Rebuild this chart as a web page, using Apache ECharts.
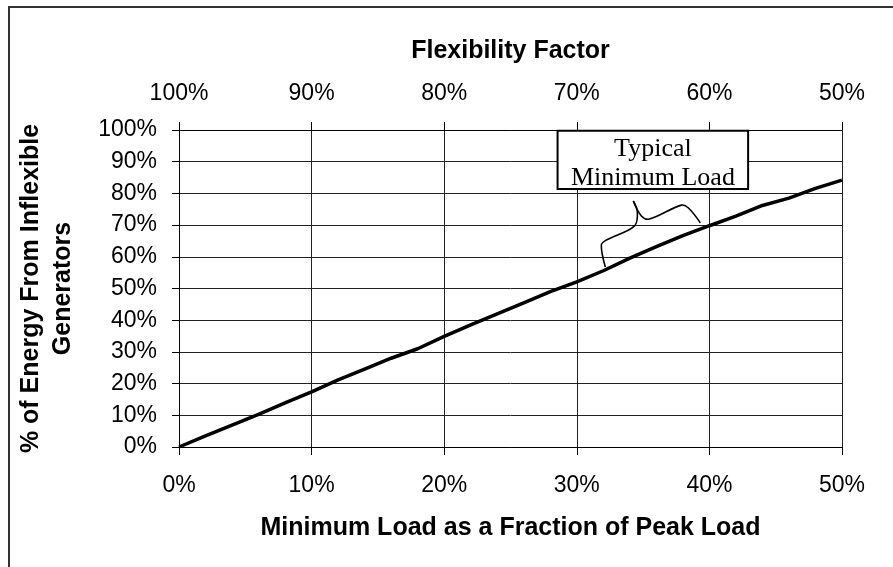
<!DOCTYPE html>
<html>
<head>
<meta charset="utf-8">
<script src="https://cdn.jsdelivr.net/npm/echarts@6/dist/echarts.min.js"></script>
<style>
  html, body { margin: 0; padding: 0; background: #fff; }
  #chart { width: 893px; height: 567px; }
</style>
</head>
<body>
<div id="chart"></div>
<script>
// minimum load as % of peak load (bottom axis)
let minLoad = [0, 2, 4, 6, 8, 10, 12, 14, 16, 18, 20, 22, 24, 26, 28, 30, 32, 34, 36, 38, 40, 42, 44, 46, 48, 50]
// % of energy from inflexible generators
let energyShare = [0, 3.5, 6.9, 10.3, 13.9, 17.4, 21.2, 24.6, 28.0, 31.0, 34.9, 38.5, 42.0, 45.5, 49.0, 52.1,
  55.6, 59.6, 63.2, 66.7, 69.8, 72.8, 76.2, 78.5, 81.6, 84.2]
// flexibility factor ticks (top axis, 100% - min load)
let flexTicks = [100, 90, 80, 70, 60, 50]

// brace under the "Typical Minimum Load" box, in data units
let braceLeft = [[32.15, 56.8], [31.85, 63.7], [32.23, 65.3], [34.34, 69.7], [34.57, 74.1], [34.26, 77.6]]
let braceRight = [[34.26, 77.6], [34.87, 72.9], [35.47, 71.9], [37.89, 76.3], [38.42, 75.4], [39.32, 70.7]]

let sans = "'Liberation Sans', Arial, sans-serif"
let serif = "'Liberation Serif', 'Times New Roman', serif"

let chart = echarts.init(document.getElementById('chart'))

let seriesData = []
for (let i = 0; i < minLoad.length; i++) {
  seriesData.push([minLoad[i], energyShare[i]])
}

let option = {
  animation: false,
  backgroundColor: '#fff',
  grid: {
    left: 179,
    right: 51,
    top: 130,
    bottom: 120,
    containLabel: false,
    outerBoundsMode: 'none'
  },
  xAxis: [
    {
      type: 'value',
      position: 'bottom',
      min: 0,
      max: 50,
      interval: 10,
      name: 'Minimum Load as a Fraction of Peak Load',
      nameLocation: 'middle',
      nameGap: 69,
      nameTextStyle: { fontFamily: sans, fontSize: 25, fontWeight: 'bold', color: '#000' },
      axisLine: { show: true, lineStyle: { color: '#000', width: 1 } },
      axisTick: { show: true, length: 8, lineStyle: { color: '#000' } },
      axisLabel: {
        margin: 27,
        formatter: '{value}%',
        fontFamily: sans,
        fontSize: 23,
        color: '#000'
      },
      splitLine: { show: true, lineStyle: { color: '#222', width: 1 } }
    },
    {
      type: 'value',
      position: 'top',
      min: 50,
      max: 100,
      interval: 10,
      inverse: true,
      name: 'Flexibility Factor',
      nameLocation: 'middle',
      nameGap: 66,
      nameTextStyle: { fontFamily: sans, fontSize: 25, fontWeight: 'bold', color: '#000' },
      axisLine: { show: true, lineStyle: { color: '#000', width: 1 } },
      axisTick: { show: true, length: 8, lineStyle: { color: '#000' } },
      axisLabel: {
        margin: 25,
        formatter: function (v) {
          return flexTicks.indexOf(v) >= 0 ? v + '%' : ''
        },
        fontFamily: sans,
        fontSize: 23,
        color: '#000'
      },
      splitLine: { show: false }
    }
  ],
  yAxis: {
    type: 'value',
    min: 0,
    max: 100,
    interval: 10,
    name: '% of Energy From Inflexible\nGenerators',
    nameLocation: 'middle',
    nameGap: 100,
    nameTextStyle: { fontFamily: sans, fontSize: 25, fontWeight: 'bold', color: '#000', lineHeight: 32, align: 'center' },
    axisLine: { show: true, lineStyle: { color: '#000', width: 1 } },
    axisTick: { show: true, length: 7, lineStyle: { color: '#000' } },
    axisLabel: {
      margin: 22,
      formatter: '{value}%',
      fontFamily: sans,
      fontSize: 23,
      color: '#000'
    },
    splitLine: { show: true, lineStyle: { color: '#222', width: 1 } }
  },
  series: [
    {
      type: 'line',
      xAxisIndex: 0,
      yAxisIndex: 0,
      data: seriesData,
      showSymbol: false,
      symbol: 'none',
      smooth: false,
      lineStyle: { color: '#000', width: 3.5 },
      z: 5
    }
  ]
}
chart.setOption(option)

// annotation placed through the axes
function toPx(p) {
  return chart.convertToPixel({ xAxisIndex: 0, yAxisIndex: 0 }, p)
}
let boxTL = toPx([28.55, 99.78])
let boxBR = toPx([42.92, 81.4])
let textC = toPx([35.74, 89.3])

chart.setOption({
  graphic: [
    {
      // outer frame of the figure
      type: 'rect',
      shape: { x: 9, y: 7, width: 1000, height: 1000 },
      style: { fill: 'none', stroke: '#333', lineWidth: 2 },
      silent: true
    },
    {
      type: 'rect',
      z: 100,
      shape: { x: boxTL[0], y: boxTL[1], width: boxBR[0] - boxTL[0], height: boxBR[1] - boxTL[1] },
      style: { fill: '#fff', stroke: '#000', lineWidth: 2 }
    },
    {
      type: 'text',
      z: 101,
      x: textC[0],
      y: textC[1],
      style: {
        text: 'Typical\nMinimum Load',
        font: '26px ' + serif,
        fill: '#000',
        align: 'center',
        verticalAlign: 'middle',
        lineHeight: 29
      }
    },
    {
      type: 'polyline',
      z: 100,
      shape: { points: braceLeft.map(toPx), smooth: 0.35 },
      style: { fill: 'none', stroke: '#000', lineWidth: 1.6 }
    },
    {
      type: 'polyline',
      z: 100,
      shape: { points: braceRight.map(toPx), smooth: 0.35 },
      style: { fill: 'none', stroke: '#000', lineWidth: 1.6 }
    }
  ]
})
</script>
</body>
</html>
